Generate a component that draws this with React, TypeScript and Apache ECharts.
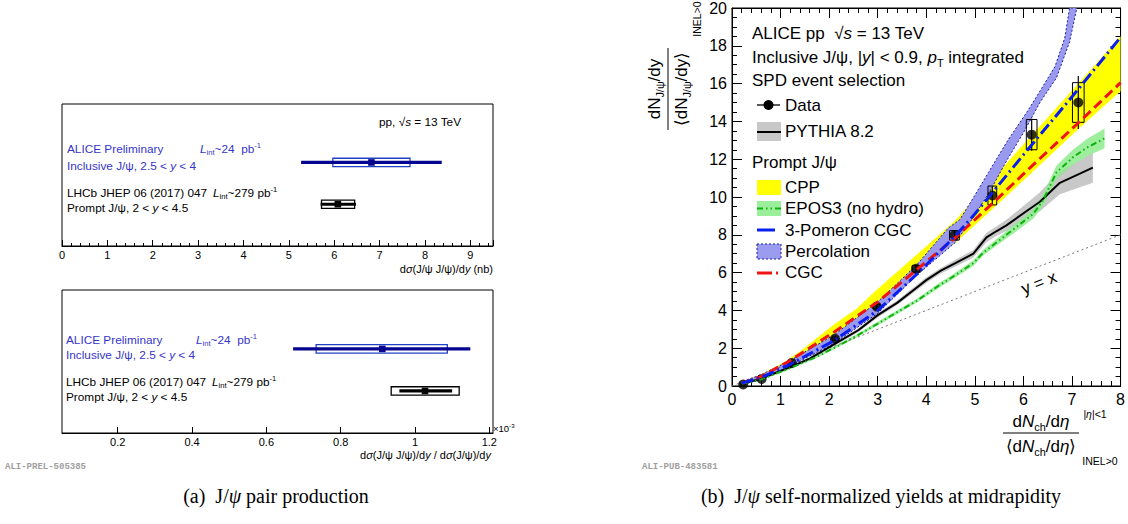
import React, { useEffect, useRef } from 'react';
import * as echarts from 'echarts';

const SANS = '"Liberation Sans", Arial, Helvetica, sans-serif';
const SERIF = '"Liberation Serif", "Times New Roman", serif';
const MONO = '"Liberation Mono", "DejaVu Sans Mono", monospace';

// ---------------- Panel (a): J/psi pair production ----------------
// row 1 = LHCb (prompt), row 2 = ALICE (inclusive)
const pairRows = [1, 2];
const xsecCentral = [6.08, 6.82];
const xsecStatLo = [5.70, 5.27];
const xsecStatHi = [6.48, 8.37];
const xsecSysLo = [5.72, 5.97];
const xsecSysHi = [6.45, 7.67];

const ratioCentral = [1.027, 0.912];
const ratioStatLo = [0.958, 0.672];
const ratioStatHi = [1.100, 1.149];
const ratioSysLo = [0.936, 0.734];
const ratioSysHi = [1.119, 1.087];
const ratioTicks = [0.2, 0.4, 0.6, 0.8, 1.0, 1.2];

// ---------------- Panel (b): self-normalized yields ----------------
const dataX = [0.23, 0.61, 1.23, 2.12, 2.98, 3.79, 4.58, 5.36, 6.17, 7.13];
const dataY = [0.08, 0.37, 1.22, 2.5, 4.2, 6.2, 7.97, 10.08, 13.3, 15.0];
const dataStat = [0.02, 0.03, 0.06, 0.1, 0.15, 0.2, 0.25, 0.45, 0.85, 1.4];
const dataSysY = [0.02, 0.03, 0.06, 0.08, 0.12, 0.18, 0.25, 0.5, 0.8, 1.05];
const dataSysX = [0.05, 0.05, 0.05, 0.06, 0.07, 0.08, 0.1, 0.09, 0.11, 0.12];

const pyX = [0.2, 0.6, 1.2, 1.6, 2.1, 2.6, 3.0, 3.4, 3.8, 4.0, 4.3, 4.6, 4.97, 5.24, 5.45, 5.65, 6.2, 6.34, 6.75, 7.43];
const pyY = [0.1, 0.4, 1.0, 1.45, 2.2, 2.95, 3.75, 4.4, 5.2, 5.6, 6.1, 6.5, 7.0, 7.86, 8.2, 8.5, 9.5, 9.75, 10.75, 11.55];
const pyErr = [0.05, 0.05, 0.08, 0.08, 0.1, 0.1, 0.12, 0.12, 0.15, 0.15, 0.15, 0.18, 0.2, 0.25, 0.25, 0.3, 0.45, 0.5, 0.6, 0.8];

const eposX = [0.2, 0.6, 1.2, 1.75, 2.2, 2.6, 3.2, 3.5, 3.8, 4.28, 4.5, 4.97, 5.17, 5.5, 5.65, 6.2, 6.4, 6.68, 7.02, 7.3, 7.67];
const eposY = [0.12, 0.35, 0.95, 1.55, 2.15, 2.7, 3.6, 4.05, 4.5, 5.35, 5.7, 6.5, 7.05, 7.7, 8.0, 9.1, 9.8, 11.3, 12.1, 12.6, 13.1];
const eposErr = [0.05, 0.05, 0.06, 0.06, 0.07, 0.08, 0.1, 0.1, 0.1, 0.12, 0.12, 0.15, 0.15, 0.18, 0.2, 0.25, 0.3, 0.35, 0.4, 0.45, 0.52];

const cppX = [0.2, 0.6, 1.09, 1.43, 2.12, 2.57, 2.94, 3.6, 4.0, 4.59, 5.36, 6.2, 7.13, 8.0];
const cppHi = [0.2, 0.62, 1.28, 1.89, 3.3, 4.1, 5.0, 6.5, 7.4, 8.74, 10.95, 13.35, 16.0, 18.5];
const cppLo = [0.12, 0.45, 1.1, 1.55, 2.7, 3.5, 4.2, 5.7, 6.5, 7.55, 9.35, 11.35, 13.6, 15.6];

const pomX = [0.2, 0.6, 1.2, 2.1, 3.0, 3.8, 4.6, 5.0, 5.4, 6.06, 7.0, 8.0];
const pomY = [0.15, 0.45, 1.15, 2.4, 4.0, 5.9, 7.95, 9.1, 10.35, 12.42, 15.3, 18.45];

const cgcX = [0.2, 0.6, 1.2, 2.1, 3.0, 3.8, 4.6, 5.4, 6.2, 7.1, 8.0];
const cgcY = [0.15, 0.5, 1.35, 2.85, 4.45, 6.15, 7.85, 9.75, 11.7, 13.85, 16.05];

const percUpX = [0.15, 0.6, 1.2, 2.1, 3.0, 3.8, 4.45, 4.69, 4.97, 5.28, 5.68, 6.1, 6.34, 6.65, 6.85, 6.95];
const percUpY = [0.18, 0.6, 1.35, 2.7, 4.45, 6.4, 8.35, 8.8, 9.96, 11.3, 13.0, 14.6, 15.6, 16.9, 18.4, 20];
const percLoX = [0.15, 0.6, 1.2, 2.1, 3.0, 3.8, 4.6, 4.95, 5.31, 5.65, 6.0, 6.34, 6.68, 6.95, 7.1];
const percLoY = [0.02, 0.35, 1.05, 2.25, 3.85, 5.85, 7.6, 8.85, 10.3, 11.9, 13.4, 15.0, 16.3, 18.2, 20];

const diagX = [0, 8];
const diagY = [0, 8];

const zip = (xs: number[], ys: number[]) => xs.map((x, i) => [x, ys[i]]);
const zipOff = (xs: number[], ys: number[], es: number[], s: number) => xs.map((x, i) => [x, ys[i] + s * es[i]]);

function rich(size: number, color = '#000', family = SANS) {
  const lh = Math.round(size * 1.3);
  const sub = Math.round(size * 0.64 * 10) / 10;
  return {
    n: { fontSize: size, fontFamily: family, color, lineHeight: lh },
    i: { fontSize: size, fontFamily: family, color, fontStyle: 'italic', lineHeight: lh },
    sub: { fontSize: sub, fontFamily: family, color, lineHeight: sub, verticalAlign: 'bottom' },
    sup: { fontSize: sub, fontFamily: family, color, lineHeight: sub, verticalAlign: 'top' },
  };
}

function txt(x: number, y: number, text: string, size: number, opts: any = {}) {
  const color = opts.color || '#000';
  const family = opts.family || SANS;
  return {
    type: 'text',
    x,
    y,
    rotation: opts.rotation || 0,
    silent: true,
    z: 100,
    style: {
      text,
      rich: rich(size, color, family),
      fill: color,
      font: `${opts.weight || 'normal'} ${size}px ${family}`,
      fontSize: size,
      fontFamily: family,
      fontWeight: opts.weight || 'normal',
      align: opts.align || 'left',
      textAlign: opts.align || 'left',
      verticalAlign: 'middle',
      textVerticalAlign: 'middle',
    },
  };
}

function bandSeries(upper: number[][], lower: number[][], fill: string, stroke?: string, dash?: number[]) {
  const poly = upper.concat(lower.slice().reverse());
  return {
    type: 'custom',
    xAxisIndex: 2,
    yAxisIndex: 2,
    silent: true,
    clip: true,
    data: poly,
    encode: { x: 0, y: 1 },
    renderItem: (params: any, api: any) => {
      if (params.dataIndex !== 0) return null;
      const pts = poly.map((p) => api.coord(p));
      return {
        type: 'polygon',
        shape: { points: pts },
        style: { fill, stroke: stroke || null, lineWidth: stroke ? 1 : 0, lineDash: dash },
      };
    },
  };
}

function lineSeries(pts: number[][], color: string, width: number, type: any) {
  return {
    type: 'line',
    xAxisIndex: 2,
    yAxisIndex: 2,
    data: pts,
    symbol: 'none',
    showSymbol: false,
    silent: true,
    clip: true,
    lineStyle: { color, width, type },
  };
}

const measRender = (params: any, api: any) => {
  const row = api.value(0);
  const c = api.coord([api.value(1), row]);
  const s0 = api.coord([api.value(2), row]);
  const s1 = api.coord([api.value(3), row]);
  const b0 = api.coord([api.value(4), row]);
  const b1 = api.coord([api.value(5), row]);
  const alice = row === 2;
  const lineCol = alice ? '#05058f' : '#000000';
  const boxCol = alice ? '#2040c4' : '#000000';
  return {
    type: 'group',
    children: [
      { type: 'rect', shape: { x: b0[0], y: c[1] - 4.2, width: b1[0] - b0[0], height: 8.4 }, style: { fill: '#ffffff', stroke: boxCol, lineWidth: 1.3 } },
      { type: 'line', shape: { x1: s0[0], y1: c[1], x2: s1[0], y2: c[1] }, style: { stroke: lineCol, lineWidth: 3.2 } },
      { type: 'rect', shape: { x: c[0] - 3.3, y: c[1] - 3.3, width: 6.6, height: 6.6 }, style: { fill: lineCol } },
    ],
  };
};

const errRender = (params: any, api: any) => {
  const x = api.value(0);
  const y = api.value(1);
  const st = api.value(2);
  const sy = api.value(3);
  const sx = api.value(4);
  const p0 = api.coord([x - sx, y + sy]);
  const p1 = api.coord([x + sx, y - sy]);
  const e0 = api.coord([x, y + st]);
  const e1 = api.coord([x, y - st]);
  return {
    type: 'group',
    children: [
      { type: 'rect', shape: { x: p0[0], y: p0[1], width: p1[0] - p0[0], height: p1[1] - p0[1] }, style: { fill: 'none', stroke: '#000', lineWidth: 1 } },
      { type: 'line', shape: { x1: e0[0], y1: e0[1], x2: e1[0], y2: e1[1] }, style: { stroke: '#000', lineWidth: 1.2 } },
    ],
  };
};

const blk = { color: '#000', width: 1 };

function leftAxisX(gridIndex: number, extra: any) {
  return {
    type: 'value',
    gridIndex,
    position: 'bottom',
    axisLine: { show: true, onZero: false, lineStyle: blk },
    splitLine: { show: false },
    ...extra,
  };
}

const ALICE_BLUE = '#3535c8';

export default function App() {
  const ref = useRef<HTMLDivElement>(null);
  useEffect(() => {
    if (!ref.current) return;
    const chart = echarts.init(ref.current, undefined, { renderer: 'svg' });

    const xsecData = pairRows.map((r, i) => [r, xsecCentral[i], xsecStatLo[i], xsecStatHi[i], xsecSysLo[i], xsecSysHi[i]]);
    const ratioData = pairRows.map((r, i) => [r, ratioCentral[i], ratioStatLo[i], ratioStatHi[i], ratioSysLo[i], ratioSysHi[i]]);
    const errData = dataX.map((x, i) => [x, dataY[i], dataStat[i], dataSysY[i], dataSysX[i]]);

    const rAxisLabel = { fontSize: 16, color: '#000', fontFamily: SANS };
    const LS = 11.8;

    const graphic: any[] = [
      // Panel (a) texts, upper
      txt(379, 122, '{n|pp, √}{i|s}{n| = 13 TeV}', LS),
      txt(67, 149, '{n|ALICE Preliminary}', LS, { color: ALICE_BLUE }),
      txt(200, 149, '{i|L}{sub|int}{n|~24  pb}{sup|-1}', LS, { color: ALICE_BLUE }),
      txt(67, 166, '{n|Inclusive J/ψ, 2.5 < }{i|y}{n| < 4}', LS, { color: ALICE_BLUE }),
      txt(67, 193, '{n|LHCb JHEP 06 (2017) 047}', LS),
      txt(213, 193, '{i|L}{sub|int}{n|~279 pb}{sup|-1}', LS),
      txt(67, 208, '{n|Prompt J/ψ, 2 < }{i|y}{n| < 4.5}', LS),
      txt(493, 269, '{n|d}{i|σ}{n|(J/ψ J/ψ)/d}{i|y}{n| (nb)}', 11, { align: 'right' }),
      // Panel (a) texts, lower
      txt(66, 340, '{n|ALICE Preliminary}', LS, { color: ALICE_BLUE }),
      txt(196, 340, '{i|L}{sub|int}{n|~24  pb}{sup|-1}', LS, { color: ALICE_BLUE }),
      txt(66, 355, '{n|Inclusive J/ψ, 2.5 < }{i|y}{n| < 4}', LS, { color: ALICE_BLUE }),
      txt(66, 382, '{n|LHCb JHEP 06 (2017) 047}', LS),
      txt(212, 382, '{i|L}{sub|int}{n|~279 pb}{sup|-1}', LS),
      txt(66, 397, '{n|Prompt J/ψ, 2 < }{i|y}{n| < 4.5}', LS),
      txt(493, 428, '{n|×10}{sup|-3}', 9.5),
      txt(491, 455, '{n|d}{i|σ}{n|(J/ψ J/ψ)/d}{i|y}{n| / d}{i|σ}{n|(J/ψ)/d}{i|y}', 11, { align: 'right' }),
      txt(5, 467, 'ALI-PREL-505385', 9, { color: '#a0a0a0', family: MONO, weight: 'bold' }),
      // Panel (b) header
      txt(752, 33, '{n|ALICE pp  √}{i|s}{n| = 13 TeV}', 17),
      txt(752, 57, '{n|Inclusive J/ψ, |}{i|y}{n|| < 0.9, }{i|p}{sub|T}{n| integrated}', 17),
      txt(752, 80, '{n|SPD event selection}', 17),
      // legend
      { type: 'line', shape: { x1: 757, y1: 105, x2: 780, y2: 105 }, style: { stroke: '#000', lineWidth: 1.3 }, z: 100 },
      { type: 'circle', shape: { cx: 768.5, cy: 105, r: 5 }, style: { fill: '#000' }, z: 100 },
      txt(785, 105, '{n|Data}', 17),
      { type: 'rect', shape: { x: 757, y: 122, width: 24, height: 19 }, style: { fill: '#c8c8c8' }, z: 100 },
      { type: 'line', shape: { x1: 757, y1: 132, x2: 781, y2: 132 }, style: { stroke: '#000', lineWidth: 2 }, z: 100 },
      txt(785, 131, '{n|PYTHIA 8.2}', 17),
      txt(752, 162, '{n|Prompt J/ψ}', 17),
      { type: 'rect', shape: { x: 757, y: 180, width: 24, height: 15 }, style: { fill: '#ffff00' }, z: 100 },
      txt(785, 187, '{n|CPP}', 17),
      { type: 'rect', shape: { x: 757, y: 201, width: 24, height: 15 }, style: { fill: '#9bef9b' }, z: 100 },
      { type: 'line', shape: { x1: 757, y1: 208.5, x2: 781, y2: 208.5 }, style: { stroke: '#10b010', lineWidth: 2, lineDash: [6, 3, 1.5, 3, 1.5, 3] }, z: 100 },
      txt(785, 208, '{n|EPOS3 (no hydro)}', 17),
      { type: 'line', shape: { x1: 757, y1: 230, x2: 775, y2: 230 }, style: { stroke: '#0a1ef0', lineWidth: 3 }, z: 100 },
      txt(785, 230, '{n|3-Pomeron CGC}', 17),
      { type: 'rect', shape: { x: 757, y: 244, width: 24, height: 15 }, style: { fill: '#9b9bf0', stroke: '#1a1aa8', lineWidth: 1, lineDash: [2, 2] }, z: 100 },
      txt(785, 251, '{n|Percolation}', 17),
      { type: 'line', shape: { x1: 757, y1: 273, x2: 781, y2: 273 }, style: { stroke: '#f01414', lineWidth: 3, lineDash: [15, 4, 2, 4] }, z: 100 },
      txt(785, 272, '{n|CGC}', 17),
      txt(1039, 283, '{n|y = x}', 17, { align: 'center', rotation: 0.372 }),
      // y axis title (rotated)
      {
        type: 'group',
        x: 668,
        y: 89,
        rotation: Math.PI / 2,
        z: 100,
        children: [
          txt(0, -14, '{n|dN}{sub|J/ψ}{n|/dy}', 17, { align: 'center' }),
          { type: 'line', shape: { x1: -41, y1: 0, x2: 41, y2: 0 }, style: { stroke: '#000', lineWidth: 1 } },
          txt(0, 13, '{n|⟨dN}{sub|J/ψ}{n|/dy⟩}', 17, { align: 'center' }),
          txt(70, 29, '{n|INEL>0}', 10.5, { align: 'center' }),
        ],
      },
      // x axis title
      txt(1041, 421, '{n|d}{i|N}{sub|ch}{n|/d}{i|η}', 17, { align: 'center' }),
      { type: 'line', shape: { x1: 1003, y1: 433, x2: 1079, y2: 433 }, style: { stroke: '#000', lineWidth: 1 }, z: 100 },
      txt(1041, 446, '{n|⟨d}{i|N}{sub|ch}{n|/d}{i|η}{n|⟩}', 17, { align: 'center' }),
      txt(1095, 414, '{n||}{i|η}{n||<1}', 10.5, { align: 'center' }),
      txt(1100, 461, '{n|INEL>0}', 10.5, { align: 'center' }),
      txt(642, 467, 'ALI-PUB-483581', 9, { color: '#a0a0a0', family: MONO, weight: 'bold' }),
      // captions
      txt(276, 496, '{n|(a)  J/}{i|ψ}{n| pair production}', 20, { align: 'center', family: SERIF }),
      txt(881, 496, '{n|(b)  J/}{i|ψ}{n| self-normalized yields at midrapidity}', 20, { align: 'center', family: SERIF }),
    ];

    const option: any = {
      animation: false,
      backgroundColor: '#ffffff',
      textStyle: { fontFamily: SANS },
      grid: [
        { left: 62, top: 104, width: 431, height: 142, show: true, borderColor: '#000', borderWidth: 1, backgroundColor: 'transparent' },
        { left: 62, top: 290, width: 431, height: 143, show: true, borderColor: '#000', borderWidth: 1, backgroundColor: 'transparent' },
        { left: 732, top: 6, width: 389, height: 380, show: true, borderColor: '#000', borderWidth: 1, backgroundColor: 'transparent' },
      ],
      xAxis: [
        leftAxisX(0, {
          min: 0,
          max: 9.5,
          interval: 1,
          axisTick: { show: true, inside: true, length: 6, lineStyle: blk },
          minorTick: { show: true, splitNumber: 5, length: 3, lineStyle: blk },
          axisLabel: {
            fontSize: 11,
            color: '#000',
            margin: 3,
            fontFamily: SANS,
            formatter: (v: number) => (Math.abs(v - Math.round(v)) < 1e-6 ? String(Math.round(v)) : ''),
          },
        }),
        leftAxisX(1, {
          min: 0.05,
          max: 1.21,
          axisTick: { show: true, inside: true, length: 6, lineStyle: blk, customValues: ratioTicks },
          axisLabel: {
            fontSize: 11,
            color: '#000',
            margin: 3,
            fontFamily: SANS,
            customValues: ratioTicks,
            formatter: (v: number) => String(Math.round(v * 10) / 10),
          },
        }),
        {
          type: 'value', gridIndex: 2, position: 'bottom', min: 0, max: 8, interval: 1,
          axisLine: { show: true, onZero: false, lineStyle: blk },
          axisTick: { show: true, inside: true, length: 10, lineStyle: blk },
          minorTick: { show: true, splitNumber: 5, length: 5, lineStyle: blk },
          splitLine: { show: false },
          axisLabel: { ...rAxisLabel, margin: 5 },
        },
        {
          type: 'value', gridIndex: 2, position: 'top', min: 0, max: 8, interval: 1,
          axisLine: { show: true, onZero: false, lineStyle: blk },
          axisTick: { show: true, inside: true, length: 10, lineStyle: blk },
          minorTick: { show: true, splitNumber: 5, length: 5, lineStyle: blk },
          splitLine: { show: false },
          axisLabel: { show: false },
        },
      ],
      yAxis: [
        { type: 'value', gridIndex: 0, min: 0, max: 3.4, show: false },
        { type: 'value', gridIndex: 1, min: 0, max: 3.4, show: false },
        {
          type: 'value', gridIndex: 2, position: 'left', min: 0, max: 20, interval: 2,
          axisLine: { show: true, onZero: false, lineStyle: blk },
          axisTick: { show: true, inside: true, length: 10, lineStyle: blk },
          minorTick: { show: true, splitNumber: 4, length: 5, lineStyle: blk },
          splitLine: { show: false },
          axisLabel: { ...rAxisLabel, margin: 5 },
        },
        {
          type: 'value', gridIndex: 2, position: 'right', min: 0, max: 20, interval: 2,
          axisLine: { show: true, onZero: false, lineStyle: blk },
          axisTick: { show: true, inside: true, length: 10, lineStyle: blk },
          minorTick: { show: true, splitNumber: 4, length: 5, lineStyle: blk },
          splitLine: { show: false },
          axisLabel: { show: false },
        },
      ],
      series: [
        { type: 'custom', xAxisIndex: 0, yAxisIndex: 0, data: xsecData, encode: { x: 1, y: 0 }, renderItem: measRender, silent: true },
        { type: 'custom', xAxisIndex: 1, yAxisIndex: 1, data: ratioData, encode: { x: 1, y: 0 }, renderItem: measRender, silent: true },
        bandSeries(zip(cppX, cppHi), zip(cppX, cppLo), '#ffff00'),
        bandSeries(zipOff(pyX, pyY, pyErr, 1), zipOff(pyX, pyY, pyErr, -1), '#c8c8c8'),
        bandSeries(zipOff(eposX, eposY, eposErr, 1), zipOff(eposX, eposY, eposErr, -1), 'rgba(140,235,140,0.85)'),
        bandSeries(zip(percUpX, percUpY), zip(percLoX, percLoY), '#9999ee', '#1a1aa8', [2, 2]),
        lineSeries(zip(diagX, diagY), '#777777', 1, [2, 3]),
        lineSeries(zip(pyX, pyY), '#000000', 2, 'solid'),
        lineSeries(zip(eposX, eposY), '#10b010', 2, [6, 3, 1.5, 3, 1.5, 3]),
        lineSeries(zip(cgcX, cgcY), '#f01414', 3, [10, 5]),
        lineSeries(zip(pomX, pomY), '#0a1ef0', 3, [12, 4, 2, 4]),
        { type: 'custom', xAxisIndex: 2, yAxisIndex: 2, data: errData, encode: { x: 0, y: 1 }, renderItem: errRender, silent: true },
        {
          type: 'scatter', xAxisIndex: 2, yAxisIndex: 2, data: zip(dataX, dataY), symbol: 'circle', symbolSize: 10,
          itemStyle: { color: '#000' }, silent: true,
        },
      ],
      graphic,
    };
    chart.setOption(option);
    return () => chart.dispose();
  }, []);
  return <div ref={ref} style={{ position: 'absolute', left: 0, top: 0, width: 1128, height: 524 }} />;
}
